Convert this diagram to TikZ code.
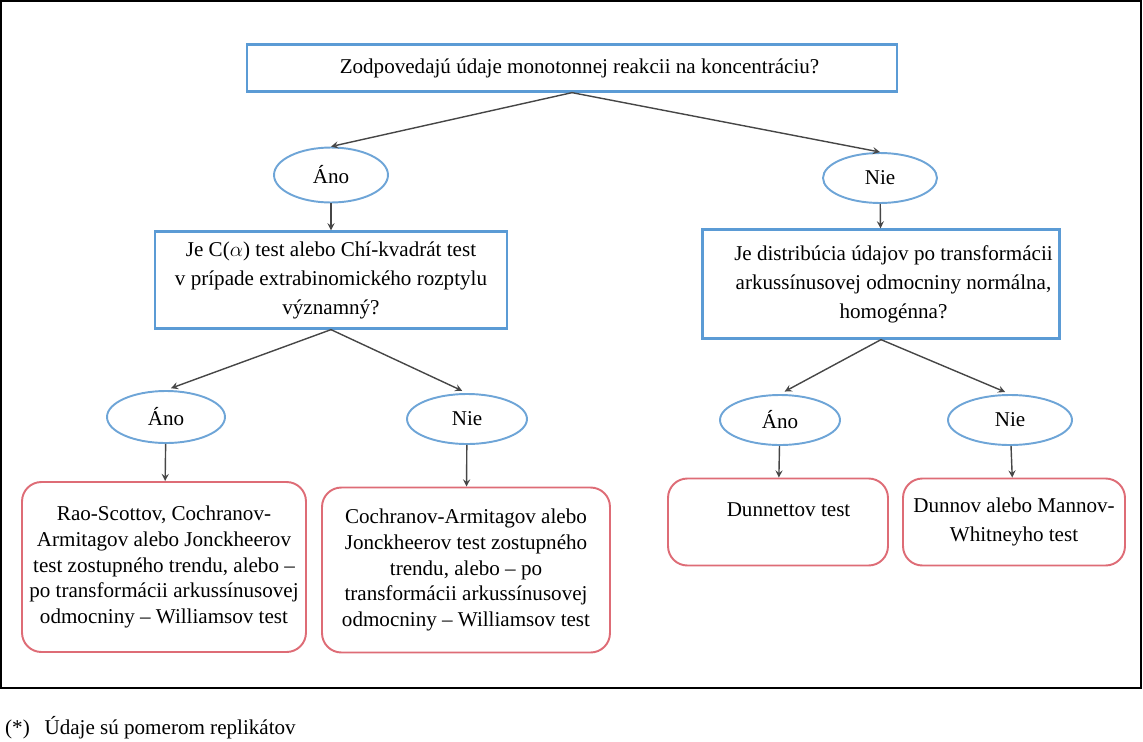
\documentclass[tikz,border=0pt]{standalone}
\usepackage{fontspec}
\setmainfont{Liberation Serif}
\usetikzlibrary{arrows,shapes.geometric}
\definecolor{qblue}{RGB}{91,155,213}
\definecolor{oblue}{RGB}{110,165,215}
\definecolor{rred}{RGB}{222,108,118}
\definecolor{agray}{RGB}{70,70,70}

\begin{document}
\begin{tikzpicture}[x=0.02cm,y=-0.02cm,
  every node/.style={font=\fontsize{12}{16.5}\selectfont, align=center},
  qbox/.style={draw=qblue, line width=1.3pt, rectangle, inner sep=2pt},
  oval/.style={draw=oblue, line width=1.1pt, ellipse, inner sep=0pt},
  endbox/.style={draw=rred, line width=1.1pt, rectangle, rounded corners=11pt, inner sep=2pt},
  tight/.style={font=\fontsize{12}{14.6}\selectfont},
  arr/.style={->, >=stealth, draw=agray, line width=0.8pt}]
\useasboundingbox (0,0) rectangle (1143,741);
\draw[line width=1.5pt] (1,1) rectangle (1141,688);

\node[qbox, minimum width=13cm, minimum height=0.94cm] (Q) at (572,68) {\hspace*{0.3cm}Zodpovedajú údaje monotonnej reakcii na koncentráciu?};

\node[oval, minimum width=2.28cm, minimum height=1.1cm] (A1) at (331,175) {Áno};
\node[oval, minimum width=2.28cm, minimum height=1.0cm] (N1) at (880,178) {Nie};

\node[qbox, minimum width=7.04cm, minimum height=1.94cm] (Q1) at (331,280) {Je C($\alpha$) test alebo Chí-kvadrát test\\ v prípade extrabinomického rozptylu\\ významný?};
\node[qbox, minimum width=7.14cm, minimum height=2.18cm] (Q2) at (881,284) {\hspace*{0.5cm}Je distribúcia údajov po transformácii\\ \hspace*{0.5cm}arkussínusovej odmocniny normálna,\\ \hspace*{0.5cm}homogénna?};

\node[oval, minimum width=2.36cm, minimum height=1.04cm] (A2) at (166,417) {Áno};
\node[oval, minimum width=2.4cm, minimum height=1.0cm] (N2) at (467,419) {Nie};
\node[oval, minimum width=2.4cm, minimum height=1.0cm] (A3) at (780,420) {Áno};
\node[oval, minimum width=2.48cm, minimum height=1.0cm] (N3) at (1010,420) {Nie};

\node[endbox, tight, minimum width=5.68cm, minimum height=3.4cm] (R1) at (164,567) {Rao-Scottov, Cochranov-\\ Armitagov alebo Jonckheerov\\ test zostupného trendu, alebo –\\ po transformácii arkussínusovej\\ odmocniny – Williamsov test};
\node[endbox, tight, minimum width=5.76cm, minimum height=3.3cm] (R2) at (466,570) {Cochranov-Armitagov alebo\\ Jonckheerov test zostupného\\ trendu, alebo – po\\ transformácii arkussínusovej\\ odmocniny – Williamsov test};
\node[endbox, minimum width=4.4cm, minimum height=1.74cm] (R3) at (778,522) {\hspace{1em}Dunnettov test\\[-2pt] \mbox{}};
\node[endbox, minimum width=4.44cm, minimum height=1.74cm] (R4) at (1014,522) {Dunnov alebo Mannov-\\ Whitneyho test};

\draw[arr] (Q.south) -- (A1.north);
\draw[arr] (Q.south) -- (N1.north);
\draw[arr] (A1) -- (Q1);
\draw[arr] (N1) -- (Q2);
\draw[arr, shorten >=3pt] (Q1.south) -- (A2.north);
\draw[arr, shorten >=3pt] (Q1.south) -- (N2.north);
\draw[arr, shorten >=3pt] (Q2.south) -- (A3.north);
\draw[arr, shorten >=3pt] (Q2.south) -- (N3.north);
\draw[arr] (A2) -- (R1);
\draw[arr] (N2) -- (R2);
\draw[arr] (A3) -- (R3);
\draw[arr] (N3) -- (R4);

\node[anchor=west] (note) at (-1,728) {(*)\hspace{0.7em}Údaje sú pomerom replikátov};
\end{tikzpicture}
\end{document}
